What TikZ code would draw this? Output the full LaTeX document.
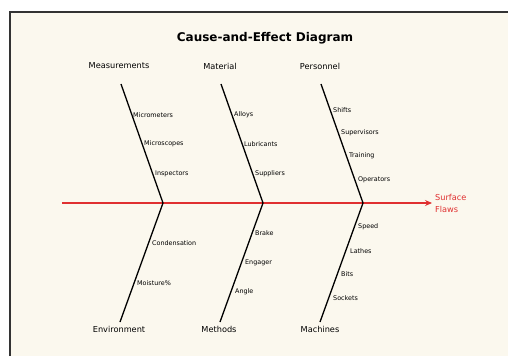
\documentclass[tikz,border=0pt]{standalone}
\usepackage{fontspec}
\setmainfont{DejaVu Sans}
\usetikzlibrary{arrows.meta}
\definecolor{cream}{HTML}{FBF8EE}
\definecolor{spinered}{HTML}{E03030}
\definecolor{framegray}{HTML}{333333}
\tikzset{
  bone/.style={line width=1.3pt, black},
  cat/.style={font=\fontsize{8.2}{10}\selectfont, text=black, inner sep=0pt},
  sub/.style={font=\fontsize{6.4}{8}\selectfont, text=black, inner sep=0pt, anchor=west},
}
\begin{document}
\begin{tikzpicture}[x=1pt,y=-1pt]
\useasboundingbox (0,0) rectangle (508,356);
\fill[white] (0,0) rectangle (508,356);
\fill[cream] (10,12) rectangle (508,356);
\draw[framegray, line width=1.2pt] (10,356) -- (10,12) -- (508,12);
\node[font=\bfseries\fontsize{12}{14}\selectfont, text=black] (title) at (265,38) {Cause-and-Effect Diagram};
% spine
\coordinate (tail) at (62,203);
\coordinate (head) at (432,203);
\draw[spinered, line width=1.4pt, -{Stealth[length=7pt,width=6pt,inset=2.5pt]}] (tail) -- (head);
\node[text=spinered, font=\fontsize{8.2}{12}\selectfont, align=left, anchor=west, inner sep=0pt] (effect) at (435,203) {Surface\\Flaws};
% joints
\coordinate (j1) at (163,203);
\coordinate (j2) at (263,203);
\coordinate (j3) at (363,203);
% bone ends
\coordinate (t1) at (121,84);
\coordinate (t2) at (221,84);
\coordinate (t3) at (321,84);
\coordinate (b1) at (120,322);
\coordinate (b2) at (220,322);
\coordinate (b3) at (320,322);
\draw[bone] (t1) -- (j1) -- (b1);
\draw[bone] (t2) -- (j2) -- (b2);
\draw[bone] (t3) -- (j3) -- (b3);
% category labels
\node[cat] (measurements) at (119,66) {Measurements};
\node[cat] (material) at (220,66) {Material};
\node[cat] (personnel) at (320,66) {Personnel};
\node[cat] (environment) at (119,329) {Environment};
\node[cat] (methods) at (219,329) {Methods};
\node[cat] (machines) at (320,329) {Machines};
% sub causes top
\node[sub] (micrometers) at (133,115) {Micrometers};
\node[sub] (microscopes) at (144,144) {Microscopes};
\node[sub] (inspectors) at (155,174) {Inspectors};
\node[sub] (alloys) at (234,115) {Alloys};
\node[sub] (lubricants) at (244,144) {Lubricants};
\node[sub] (suppliers) at (255,174) {Suppliers};
\node[sub] (shifts) at (333,110) {Shifts};
\node[sub] (supervisors) at (341,133) {Supervisors};
\node[sub] (training) at (349,156) {Training};
\node[sub] (operators) at (358,180) {Operators};
% sub causes bottom
\node[sub] (condensation) at (152,243) {Condensation};
\node[sub] (moisture) at (137,283) {Moisture\%};
\node[sub] (brake) at (255,233) {Brake};
\node[sub] (engager) at (245,263) {Engager};
\node[sub] (angle) at (235,292) {Angle};
\node[sub] (speed) at (358,227) {Speed};
\node[sub] (lathes) at (350,251) {Lathes};
\node[sub] (bits) at (341,274) {Bits};
\node[sub] (sockets) at (333,298) {Sockets};
\end{tikzpicture}
\end{document}
